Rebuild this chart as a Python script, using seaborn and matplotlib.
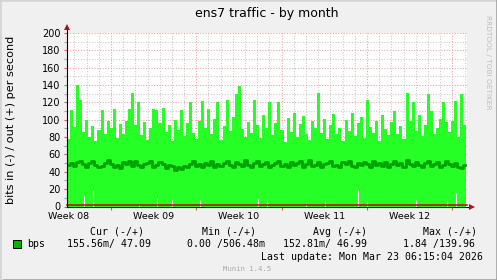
import numpy as np
import pandas as pd
import matplotlib
matplotlib.use("Agg")
import matplotlib.pyplot as plt
import seaborn as sns
from matplotlib.patches import Rectangle

# ---------------- data ----------------
title = "ens7 traffic - by month"
ylabel = "bits in (-) / out (+) per second"
week_labels = ["Week 08", "Week 09", "Week 10", "Week 11", "Week 12"]
sample_hours = 6          # one value per 6 hours
window_hours = 787        # span of the x axis
first_week_hour = 86.4    # first week boundary (hours from left edge)

max_out = [78, 111, 92, 140, 123, 86, 100, 80, 93, 76, 88, 111, 84, 98, 90, 112, 79, 95, 83, 99,
           112, 131, 94, 121, 82, 97, 77, 91, 112, 111, 96, 113, 86, 94, 75, 100, 88, 111, 81, 96,
           121, 85, 78, 98, 122, 90, 112, 83, 101, 121, 77, 93, 123, 87, 103, 130, 139, 89, 80, 97,
           85, 123, 94, 79, 106, 91, 121, 82, 96, 121, 88, 74, 102, 86, 108, 80, 95, 104, 84, 77,
           98, 91, 131, 85, 101, 78, 94, 107, 83, 90, 75, 100, 87, 108, 81, 96, 103, 79, 123, 92,
           85, 99, 76, 105, 89, 82, 97, 110, 84, 93, 78, 131, 99, 121, 87, 105, 81, 94, 130, 110,
           84, 91, 101, 121, 97, 86, 99, 122, 80, 130, 94]

avg_out = [48, 50, 47, 51, 53, 49, 46, 50, 52, 48, 45, 47, 50, 54, 49, 46, 48, 44, 51, 49,
           52, 47, 53, 48, 45, 49, 50, 52, 46, 48, 51, 49, 44, 48, 47, 42, 45, 43, 47, 46,
           49, 53, 47, 49, 45, 50, 48, 52, 46, 49, 47, 50, 53, 48, 46, 51, 49, 47, 54, 48,
           45, 50, 52, 47, 49, 51, 46, 48, 50, 53, 47, 49, 45, 51, 48, 50, 52, 46, 49, 54,
           47, 48, 51, 45, 49, 50, 53, 47, 48, 46, 51, 49, 52, 47, 45, 50, 48, 51, 49, 46,
           53, 48, 50, 47, 51, 45, 49, 52, 48, 50, 46, 54, 49, 47, 51, 48, 45, 50, 52, 47,
           49, 51, 46, 48, 53, 49, 47, 50, 45, 44, 48]

gap_index = [5, 8, 23, 29, 34, 43, 62, 65, 78, 84, 95, 98, 114, 124, 127]
gap_height = [12, 19, 2, 10, 7, 7, 9, 8, 3, 7, 19, 7, 7, 7, 15]

legend_headers = ["Cur (-/+)", "Min (-/+)", "Avg (-/+)", "Max (-/+)"]
legend_values = ["155.56m/ 47.09", "0.00 /506.48m", "152.81m/ 46.99", "1.84 /139.96"]
series_name = "bps"
last_update = "Last update: Mon Mar 23 06:15:04 2026"
footer = "Munin 1.4.5"
watermark = "RRDTOOL / TOBI OETIKER"

# ---------------- style ----------------
W, H = 497, 280
BG = "#F0F0F0"
AREA = "#26FF26"
LINE = "#00A000"
MGRID = "#E6A0A0"
GRID = "#C8C8C8"

def fx(x):
    return x / W

def fy(y):
    return 1 - y / H

fig = plt.figure(figsize=(W / 100, H / 100), dpi=100, facecolor=BG)
# 3D-ish frame (drawn beneath the axes)
frame = [((0, 0), 1, fy(278), "#A0A0A0"),
         ((fx(495), 0), fx(2), 1, "#A0A0A0"),
         ((0, fy(2)), fx(495), 1 - fy(2), "#D4D4D4"),
         ((0, 0), fx(2), 1, "#D4D4D4"),
         ((fx(2), fy(278)), fx(493), fy(2) - fy(278), BG)]
for i, (xy, w, h, c) in enumerate(frame):
    fig.patches.append(Rectangle(xy, w, h, transform=fig.transFigure, color=c, zorder=-10 + i))

ax = fig.add_axes([fx(67), fy(206.5), fx(400), (206.5 - 33) / H])
ax.set_facecolor("white")

hours = np.arange(len(max_out)) * sample_hours + sample_hours / 2
df = pd.DataFrame({"hour": hours, "max": max_out, "avg": avg_out})

sns.histplot(data=df, x="hour", weights="max", binwidth=sample_hours,
             binrange=(0, len(max_out) * sample_hours), element="step", fill=True,
             color=AREA, alpha=1, linewidth=0, ax=ax, zorder=2)
ax.vlines(hours[gap_index], 0, gap_height, color="white", lw=0.8, zorder=3)
sns.lineplot(data=df, x="hour", y="avg", ax=ax, color=LINE, lw=2.0, estimator=None,
             drawstyle="steps-mid", zorder=4)

ax.set_xlim(0, window_hours)
ax.set_ylim(0, 200)
for s in ax.spines.values():
    s.set_visible(False)

major_x = first_week_hour + 168 * np.arange(5)
minor_x = [h for h in np.arange(first_week_hour % 24, window_hours, 24) if min(abs(h - major_x)) > 1]
ax.set_xticks(major_x)
ax.set_xticks(minor_x, minor=True)
ax.set_xticklabels([])
ax.set_yticks(np.arange(0, 201, 20))
ax.set_yticks(np.arange(10, 200, 20), minor=True)
ax.set_yticklabels([str(v) for v in range(0, 201, 20)], fontsize=7)
ax.tick_params(axis="x", which="major", length=2.5, color="#D06060", width=0.8)
ax.tick_params(axis="x", which="minor", length=0)
ax.tick_params(axis="y", which="major", length=2.5, color="#D06060", width=0.8, pad=2)
ax.tick_params(axis="y", which="minor", length=2.0, color="#A0A0A0", width=0.8)
ax.grid(which="major", color=MGRID, ls=(0, (1, 1.6)), lw=0.75)
ax.grid(which="minor", color=GRID, ls=(0, (1, 1.6)), lw=0.75)
ax.set_axisbelow(True)
ax.set_xlabel("")
ax.set_ylabel("")

for pos, lab in zip(major_x - 84, week_labels):
    ax.annotate(lab, xy=(pos, 0), xycoords=("data", "axes fraction"), xytext=(0, -7.0),
                textcoords="offset points", ha="center", va="center", fontsize=6.8)

# zero lines and axes with arrows
ax.plot([0, window_hours], [1.7, 1.7], color="#CC0000", lw=1.1, clip_on=False, zorder=5)
ax.plot([0, 793], [0, 0], color="black", lw=0.8, clip_on=False, zorder=6)
ax.plot([0, 0], [0, 206], color="black", lw=0.8, clip_on=False, zorder=6)
ax.plot([796], [0], marker=">", ms=4.5, color="#A01818", clip_on=False, zorder=7, mew=0)
ax.plot([0], [206.5], marker="^", ms=4.5, color="#A01818", clip_on=False, zorder=7, mew=0)

# texts
fig.text(fx(267), fy(14), title, ha="center", va="center", fontsize=9)
fig.text(fx(11.5), fy(120), ylabel, ha="center", va="center", rotation=90, fontsize=8.1)
fig.text(fx(488), fy(15), watermark, ha="center", va="top", rotation=270, fontsize=5.3, color="#BDBDBD")

mono = "DejaVu Sans Mono"
for x, t in zip([90, 202, 313, 423], legend_headers):
    fig.text(fx(x), fy(232), t, family=mono, fontsize=7.1, ha="left", va="center")
for x, t in zip([67, 187, 283, 403], legend_values):
    fig.text(fx(x), fy(244), t, family=mono, fontsize=7.1, ha="left", va="center")
fig.patches.append(Rectangle((fx(13), fy(248)), fx(8), fy(240) - fy(248), transform=fig.transFigure,
                             facecolor="#00B400", edgecolor="black", lw=0.7, zorder=3))
fig.text(fx(27), fy(244), series_name, family=mono, fontsize=7.1, ha="left", va="center")
fig.text(fx(483), fy(257), last_update, family=mono, fontsize=7.1, ha="right", va="center")
fig.text(fx(247), fy(269), footer, family=mono, fontsize=5.2, ha="center", va="center", color="#A8A8A8")

fig.savefig("out.png", dpi=100, facecolor=BG)
